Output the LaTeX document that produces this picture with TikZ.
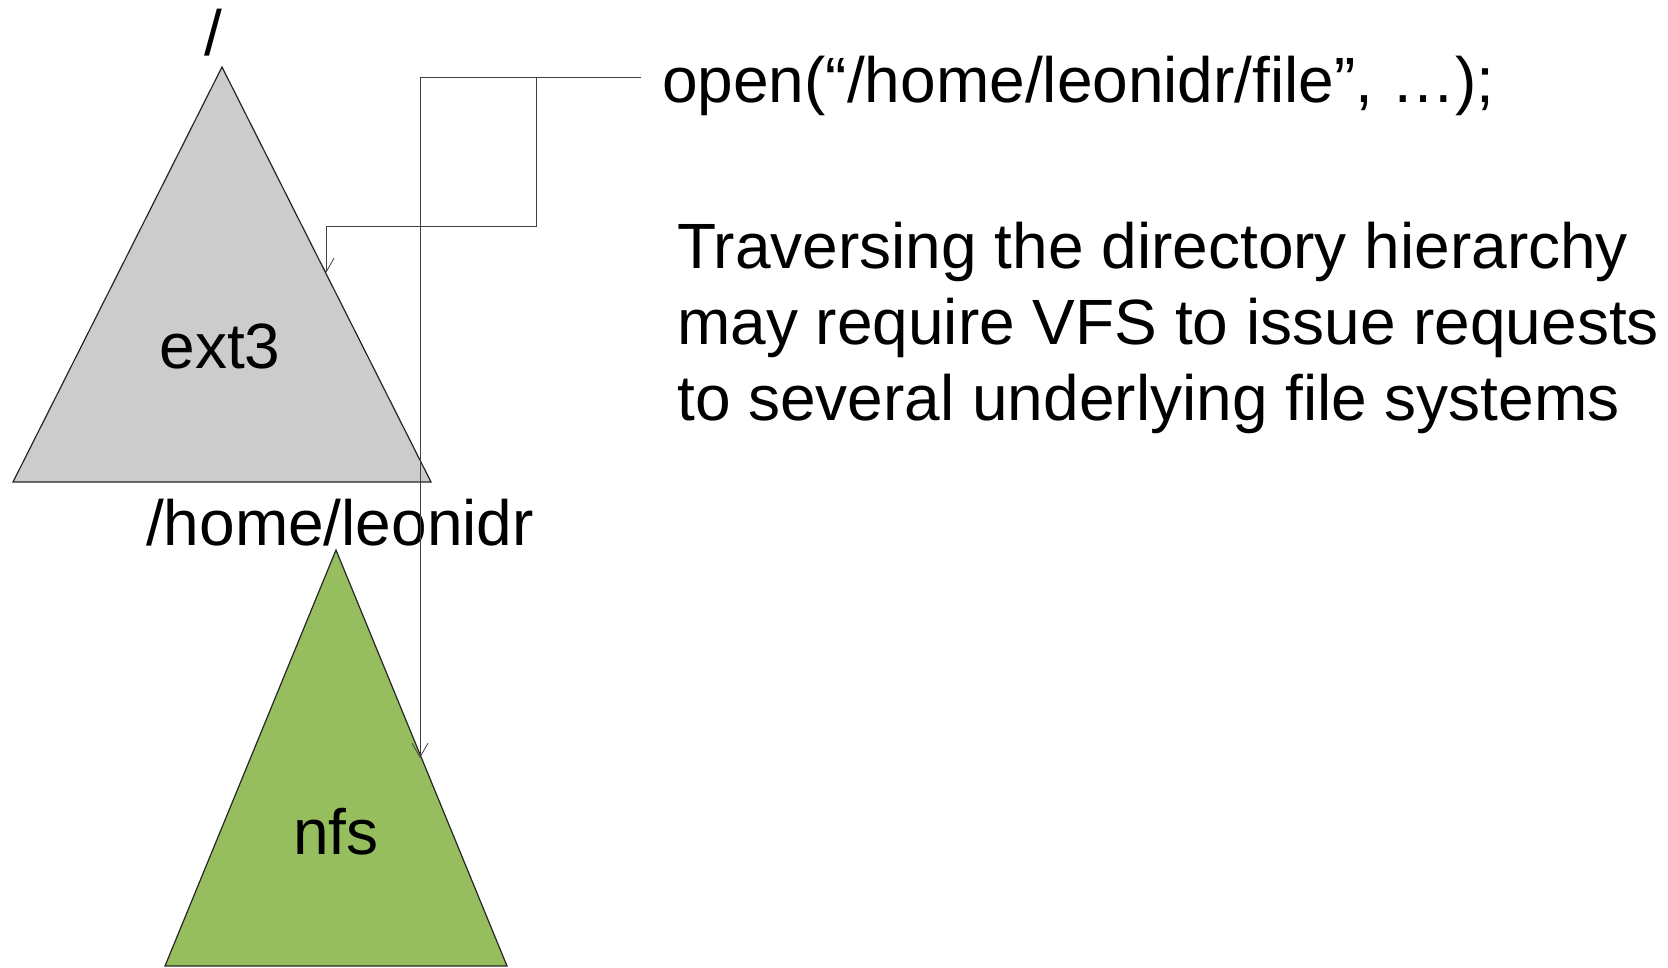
\documentclass[tikz,border=0pt]{standalone}
\usepackage{fontspec}
\setmainfont{Liberation Sans}
\usetikzlibrary{arrows.meta, positioning, shapes.geometric}
\definecolor{extgray}{RGB}{204,204,204}
\definecolor{nfsgreen}{RGB}{150,189,94}
\begin{document}
\begin{tikzpicture}[x=1bp, y=-1bp,
    fstree/.style={draw=black!85, line width=1.2bp},
    lbl/.style={inner sep=0pt, anchor=base, font=\fontsize{64bp}{76bp}\selectfont},
    conn/.style={draw=black!75, line width=1bp, -{Straight Barb[length=14bp, width=16bp, line width=0.8bp]}}]
    \useasboundingbox (0,0) rectangle (1668,967);
    % File system trees
    \draw[fstree, fill=extgray] (222,67) coordinate (rootapex) -- (431,482) -- (13,482) -- cycle;
    \draw[fstree, fill=nfsgreen] (336,550) coordinate (nfsapex) -- (507,966) -- (165,966) -- cycle;
    % Labels
    \node[lbl] (root) at (213,55) {/};
    \node[lbl] (ext3) at (220,368) {ext3};
    \node[lbl] (mount) at (340,545) {/home/leonidr};
    \node[lbl] (nfs) at (336,854) {nfs};
    \node[lbl, anchor=base west] (open) at (662,102) {open(“/home/leonidr/file”, …);};
    \node[lbl, anchor=base west, align=left] (note) at (677,420)
        {Traversing the directory hierarchy\\may require VFS to issue requests\\to several underlying file systems};
    % Lookups
    \coordinate (tap) at (641,77);
    \coordinate (step) at (536,226);
    \coordinate (hitext) at (326,273);
    \coordinate (hitnfs) at (420,758);
    \draw[conn] (tap) -| (step) -| (hitext);
    \draw[conn] (tap) -| (hitnfs);
\end{tikzpicture}
\end{document}
